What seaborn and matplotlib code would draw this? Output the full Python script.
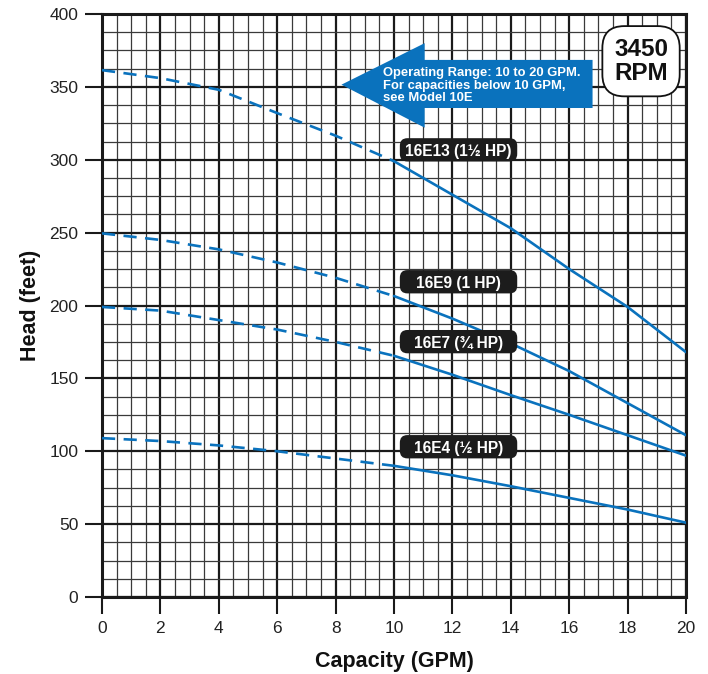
import numpy as np
import pandas as pd
import matplotlib
matplotlib.use("Agg")
import matplotlib.pyplot as plt
import seaborn as sns
from matplotlib.patches import Polygon, FancyBboxPatch
from matplotlib.ticker import MultipleLocator

# pump curves, head (feet) at each capacity (GPM)
gpm = [0, 2, 4, 6, 8, 10, 12, 14, 16, 18, 20]
head_16e13 = [361.5, 356, 348, 332, 316.5, 299, 276, 253, 225, 199, 168]
head_16e9 = [249.5, 245, 238.5, 229.5, 219, 206.5, 191, 174, 155, 133, 111]
head_16e7 = [199, 196.5, 190, 183.5, 175, 165.5, 152.5, 138.5, 125, 111, 97]
head_16e4 = [109, 107, 104, 100, 95, 90, 83.5, 76, 68, 60, 51]
models = ["16E13", "16E9", "16E7", "16E4"]
model_labels = ["16E13 (1½ HP)", "16E9 (1 HP)", "16E7 (¾ HP)", "16E4 (½ HP)"]
label_x = [12.21, 12.21, 12.21, 12.21]
label_y = [306.8, 216.3, 175.2, 103.1]
operating_min = 10
note = "Operating Range: 10 to 20 GPM.\nFor capacities below 10 GPM,\nsee Model 10E"
speed = "3450\nRPM"

BLUE = "#0a72bd"

sns.set_style("white")
plt.rcParams["font.family"] = ["Liberation Sans", "DejaVu Sans"]

fig = plt.figure(figsize=(7.08, 6.74), dpi=100)
ax = fig.add_axes([102 / 708, 77 / 674, 584 / 708, 583 / 674])
ax.set_xlim(0, 20)
ax.set_ylim(0, 400)

curves = [head_16e13, head_16e9, head_16e7, head_16e4]
for name, heads in zip(models, curves):
    d = pd.DataFrame({"gpm": gpm, "head": heads})
    low = d.loc[lambda x: x.gpm <= operating_min]
    high = d.loc[lambda x: x.gpm >= operating_min]
    sns.lineplot(data=low, x="gpm", y="head", ax=ax, color=BLUE, lw=1.9,
                 linestyle=(0, (5, 3.2)), estimator=None, sort=False, zorder=3)
    sns.lineplot(data=high, x="gpm", y="head", ax=ax, color=BLUE, lw=1.9,
                 estimator=None, sort=False, zorder=3)

# fixed-size rounded label boxes (aspect keeps the corners round in pixels)
box_w, box_h = 4.02, 16.0
aspect = (584 / 20) / (583 / 400)
for lab, lx, ly in zip(model_labels, label_x, label_y):
    ax.add_patch(FancyBboxPatch((lx - box_w / 2, ly - box_h / 2), box_w, box_h,
                                boxstyle="round,pad=0,rounding_size=0.26",
                                mutation_aspect=aspect, fc="#1c1c1c", ec="none", zorder=4))
    ax.text(lx, ly, lab, ha="center", va="center_baseline", color="white",
            fontsize=11.2, fontweight="bold", zorder=5)

# operating range arrow
arrow = Polygon([(8.2, 351.5), (11.05, 380), (11.05, 368.5), (16.8, 368.5),
                 (16.8, 335.5), (11.05, 335.5), (11.05, 322)],
                closed=True, fc=BLUE, ec="none", zorder=4)
ax.add_patch(arrow)
ax.text(9.62, 350.8, note, ha="left", va="center", color="white", fontsize=9.4,
        fontweight="bold", linespacing=1.08, zorder=5)

ax.text(0.923, 0.919, speed, transform=ax.transAxes, ha="center", va="center",
        fontsize=17.5, fontweight="bold", color="#111", linespacing=1.05, zorder=5,
        bbox=dict(boxstyle="round,pad=0.48,rounding_size=0.9", fc="white", ec="#111", lw=1.3))

ax.xaxis.set_major_locator(MultipleLocator(2))
ax.xaxis.set_minor_locator(MultipleLocator(0.5))
ax.yaxis.set_major_locator(MultipleLocator(50))
ax.yaxis.set_minor_locator(MultipleLocator(12.5))
ax.grid(which="major", color="#1a1a1a", lw=1.6, zorder=1)
ax.grid(which="minor", color="#3a3a3a", lw=0.9, zorder=1)
ax.set_axisbelow(True)
for s in ax.spines.values():
    s.set_color("#1a1a1a")
    s.set_linewidth(2.2)
ax.tick_params(which="major", direction="out", length=12, width=1.5, color="#1a1a1a",
               labelsize=12.5, labelcolor="#222", pad=5, left=True, bottom=True)
ax.tick_params(which="minor", length=0)

ax.set_xlabel("Capacity (GPM)", fontsize=15.5, fontweight="bold", color="#111", labelpad=11)
ax.set_ylabel("Head (feet)", fontsize=15.5, fontweight="bold", color="#111", labelpad=6)

fig.savefig("out.png", dpi=100)
